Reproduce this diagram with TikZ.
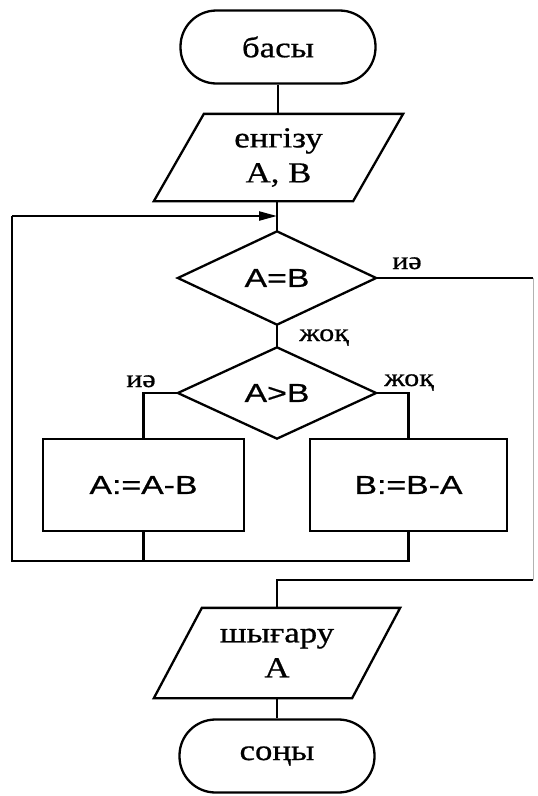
\documentclass[tikz,border=0pt]{standalone}
\usepackage{fontspec}
\setmainfont{Liberation Serif}[FakeStretch=1.2, FakeBold=0.7]
\newfontfamily\sansf{Liberation Sans}[FakeStretch=1.3, FakeBold=0.7]
\usetikzlibrary{arrows.meta}

\begin{document}
\begin{tikzpicture}[x=1pt,y=-1pt, line width=2.3pt, line join=miter,
  term/.style={draw, rounded corners=36pt, minimum width=195pt, minimum height=73pt, inner sep=0pt, font=\fontsize{29}{34}\selectfont},
  ghost/.style={minimum width=#1, inner sep=0pt, align=center, font=\fontsize{29}{35}\selectfont},
  decbox/.style={minimum width=196pt, minimum height=#1, inner sep=0pt, font=\sansf\fontsize{26}{30}\selectfont},
  procbox/.style={draw, minimum width=#1, minimum height=92pt, inner sep=0pt, font=\sansf\fontsize{26}{30}\selectfont},
  lbl/.style={inner sep=0pt, anchor=base, font=\fontsize{25}{28}\selectfont},
  faint/.style={draw=black!30, line width=1pt}
  ]
\useasboundingbox (0,0) rectangle (538,796);

% start
\node[term] (start) at (278,47) {басы};

% input
\node[ghost=197pt, minimum height=85pt] (inp) at (278.5,157.5) {енгізу\\A, B};
\draw ([xshift=25pt]inp.north west) -- ([xshift=25pt]inp.north east)
   -- ([xshift=-25pt]inp.south east) -- ([xshift=-25pt]inp.south west) -- cycle;

% decisions
\node[decbox=91pt] (d1) at (277,278) {A=B};
\draw (d1.north) -- (d1.east) -- (d1.south) -- (d1.west) -- cycle;
\node[decbox=89pt] (d2) at (277,393) {A>B};
\draw (d2.north) -- (d2.east) -- (d2.south) -- (d2.west) -- cycle;

% process boxes
\node[procbox=201pt] (b1) at (143.5,485) {A:=A-B};
\node[procbox=197pt] (b2) at (408.5,485) {B:=B-A};

% output
\node[ghost=196pt, minimum height=88pt] (out) at (277,653) {шығару\\A};
\draw ([xshift=24pt]out.north west) -- ([xshift=24pt]out.north east)
   -- ([xshift=-24pt]out.south east) -- ([xshift=-24pt]out.south west) -- cycle;

% end
\node[term] (stop) at (277,756) {соңы};

% coordinates
\coordinate (jt) at (277,216);
\coordinate (lt) at (12,216);
\coordinate (lb) at (12,561);
\coordinate (rt) at (533,278);
\coordinate (rb) at (533,580);
\coordinate (ob) at (277,580);

% connectors
\draw (start.south) -- (start.south |- inp.north);
\draw (inp.south -| jt) -- (d1.north);
\draw (d1.south) -- (d2.north);
\draw (d2.west) -| (b1.north);
\draw (d2.east) -| (b2.north);
\draw (b1.south) -- (b1.south |- lb);
\draw (b2.south) -- (b2.south |- lb) -- (lb) -- (lt);
\draw[-{Triangle[length=18pt,width=9pt]}] (lt) -- (jt);
\draw (d1.east) -- (rt);
\draw[faint] (rt) -- (rb);
\draw (rb) -- (ob) -- (out.north);
\draw (out.south) -- (stop.north);

% labels
\node[lbl] (l1) at (407,269) {иә};
\node[lbl] (l2) at (324,341) {жоқ};
\node[lbl] (l3) at (141,387) {иә};
\node[lbl] (l4) at (409,386) {жоқ};
\end{tikzpicture}
\end{document}
